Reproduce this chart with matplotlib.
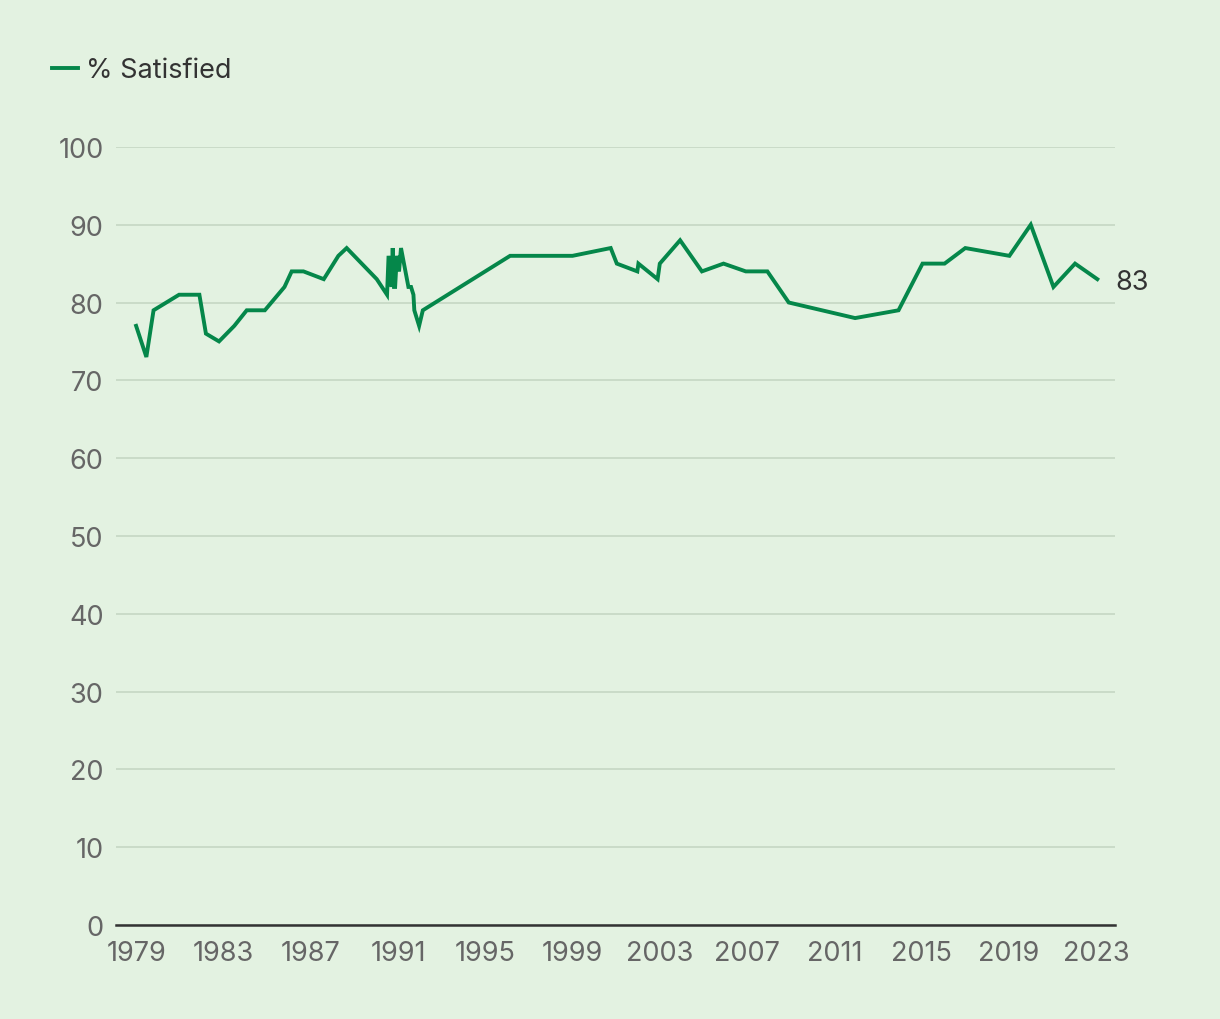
import matplotlib
matplotlib.use('Agg')
import matplotlib.pyplot as plt

# survey dates (decimal years) and % satisfied
years = [1979.0, 1979.47, 1979.8, 1980.97, 1981.9, 1982.2, 1982.8, 1983.5,
         1984.07, 1984.9, 1985.8, 1986.13, 1986.67, 1987.6, 1988.27, 1988.65,
         1990.03, 1990.5, 1990.57, 1990.7, 1990.76, 1990.82, 1990.87, 1990.95,
         1991.05, 1991.14, 1991.48, 1991.6, 1991.71, 1991.75, 1991.97, 1992.14,
         1996.14, 1999.0, 2000.75, 2001.03, 2001.97, 2002.02, 2002.9, 2003.0,
         2003.93, 2004.93, 2005.92, 2006.94, 2007.93, 2008.91, 2011.95, 2013.94,
         2015.04, 2016.05, 2017.0, 2019.02, 2020.0, 2021.04, 2022.03, 2023.05]
satisfied = [77, 73, 79, 81, 81, 76, 75, 77,
             79, 79, 82, 84, 84, 83, 86, 87,
             83, 81, 86, 82, 87, 82, 82, 86,
             84, 87, 82, 82, 81, 79, 77, 79,
             86, 86, 87, 85, 84, 85, 83, 85,
             88, 84, 85, 84, 84, 80, 78, 79,
             85, 85, 87, 86, 90, 82, 85, 83]

year_ticks = list(range(1979, 2024, 4))
y_ticks = list(range(0, 101, 10))

BG = '#e3f2e1'
GREEN = '#05874a'
FS = 19.5

plt.rcParams['font.family'] = ['Inter', 'DejaVu Sans']

fig = plt.figure(figsize=(12.2, 10.2), dpi=100, facecolor=BG)
ax = fig.add_axes([0.0951, 0.0922, 0.819, 0.7628])
ax.set_facecolor(BG)

ax.plot(years, satisfied, color=GREEN, lw=2.8, solid_joinstyle='miter', zorder=3,
        label='% Satisfied')
ax.text(years[-1] + 0.85, satisfied[-1] - 0.3, str(satisfied[-1]), fontsize=FS,
        color='#333333', va='center', ha='left')

ax.set_xlim(1978.08, 2023.87)
ax.set_ylim(0, 100)
ax.set_xticks(year_ticks)
ax.set_yticks(y_ticks)
ax.tick_params(length=0, labelsize=FS, labelcolor='#666666')
ax.tick_params(axis='y', pad=9)
ax.tick_params(axis='x', pad=11)
ax.grid(axis='y', color='#c8d9c6', lw=1.3)
ax.set_axisbelow(True)
for s in ['top', 'right', 'left']:
    ax.spines[s].set_visible(False)
ax.spines['bottom'].set_color('#333333')
ax.spines['bottom'].set_linewidth(1.8)
ax.spines['bottom'].set_zorder(4)

leg = fig.legend(loc='upper left', bbox_to_anchor=(0.023, 0.967), frameon=False,
                 fontsize=19.5, handlelength=0.95, handletextpad=0.3)
for t in leg.get_texts():
    t.set_color('#333333')

fig.savefig('out.png', dpi=100, facecolor=BG)
